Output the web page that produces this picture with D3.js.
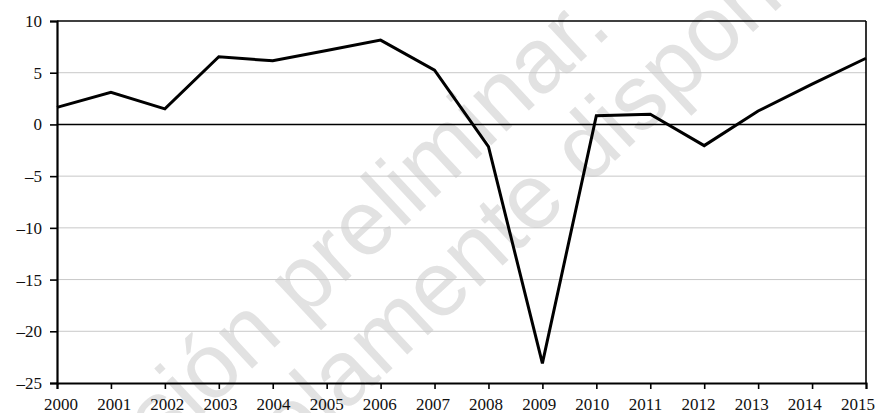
<!DOCTYPE html>
<html><head><meta charset="utf-8">
<script src="https://cdn.jsdelivr.net/npm/d3@7"></script>
<style>
body{margin:0;background:#fff;}
svg{display:block;}
.lbl{font-family:"Liberation Serif","DejaVu Serif",serif;font-size:17px;fill:#111;}
.wm{font-family:"Liberation Sans",Arial,sans-serif;font-size:92px;fill:#e2e2e2;}
</style></head>
<body>
<svg id="c" width="879" height="413"></svg>
<script>
const years = [2000,2001,2002,2003,2004,2005,2006,2007,2008,2009,2010,2011,2012,2013,2014,2015];
const values = [1.65,3.1,1.5,6.55,6.15,7.15,8.15,5.25,-2.15,-23.1,0.85,0.98,-2.05,1.3,3.9,6.4];
const yTicks = [10,5,0,-5,-10,-15,-20,-25];
const yTickLabels = ["10","5","0","–5","–10","–15","–20","–25"];
const xTickLabels = years.map(String);
const watermark1 = "Versión preliminar.";
const watermark2a = "Documento sola";
const watermark2b = "mente disponible";

const svg = d3.select("#c");
const L=57, R=866, T=21, B=383;
const x = d3.scaleLinear().domain([2000,2015]).range([L,R]);
const xl = d3.scaleLinear().domain([2000,2015]).range([61,858]);
const y = d3.scaleLinear().domain([-25,10]).range([B,T]);

// watermark
const wm = svg.append("g");
wm.append("text").attr("class","wm").attr("transform","translate(614,31) rotate(-43)").attr("text-anchor","end").text(watermark1);
wm.append("text").attr("class","wm").attr("transform","translate(382,378) rotate(-43)").attr("text-anchor","end").text(watermark2a);
wm.append("text").attr("class","wm").attr("transform","translate(382,378) rotate(-43)").attr("text-anchor","start").text(watermark2b);

// gridlines
svg.append("g").selectAll("line").data(yTicks.filter(v=>v!==0 && v!==10 && v!==-25)).join("line")
  .attr("x1",L).attr("x2",R).attr("y1",d=>y(d)).attr("y2",d=>y(d))
  .attr("stroke","#c8c8c8").attr("stroke-width",1);

// zero line and top/right borders
svg.append("line").attr("x1",L).attr("x2",R).attr("y1",y(0)).attr("y2",y(0)).attr("stroke","#000").attr("stroke-width",1.6);
svg.append("line").attr("x1",L).attr("x2",R).attr("y1",y(10)).attr("y2",y(10)).attr("stroke","#000").attr("stroke-width",1.4);
svg.append("line").attr("x1",R).attr("x2",R).attr("y1",T).attr("y2",B).attr("stroke","#000").attr("stroke-width",1.6);

// axes
const yAxis = d3.axisLeft(y).tickValues(yTicks).tickSize(7).tickFormat((d,i)=>yTickLabels[i]);
const gy = svg.append("g").attr("transform",`translate(${L},0)`).call(yAxis)
  .attr("font-family",null).attr("font-size",null);
gy.select(".domain").attr("stroke","#000").attr("stroke-width",2.2);
gy.selectAll(".tick line").attr("stroke","#000").attr("stroke-width",1.6);
gy.selectAll(".tick text").attr("class","lbl").attr("x",-15).attr("dy","0.32em").attr("fill",null);

const xAxis = d3.axisBottom(x).tickValues(years).tickSize(6).tickFormat("");
const gx = svg.append("g").attr("transform",`translate(0,${B})`).call(xAxis);
gx.select(".domain").attr("stroke","#000").attr("stroke-width",2);
gx.selectAll(".tick line").attr("stroke","#000").attr("stroke-width",1.6);

svg.append("g").selectAll("text").data(years).join("text")
  .attr("class","lbl")
  .attr("x",d=>xl(d)).attr("y",410).attr("text-anchor","middle")
  .text((d,i)=>xTickLabels[i]);

// line
svg.append("path").datum(years.map((yr,i)=>[yr,values[i]]))
  .attr("fill","none").attr("stroke","#000").attr("stroke-width",3).attr("stroke-linejoin","miter")
  .attr("d",d3.line().x(d=>x(d[0])).y(d=>y(d[1])));
</script>
</body></html>
